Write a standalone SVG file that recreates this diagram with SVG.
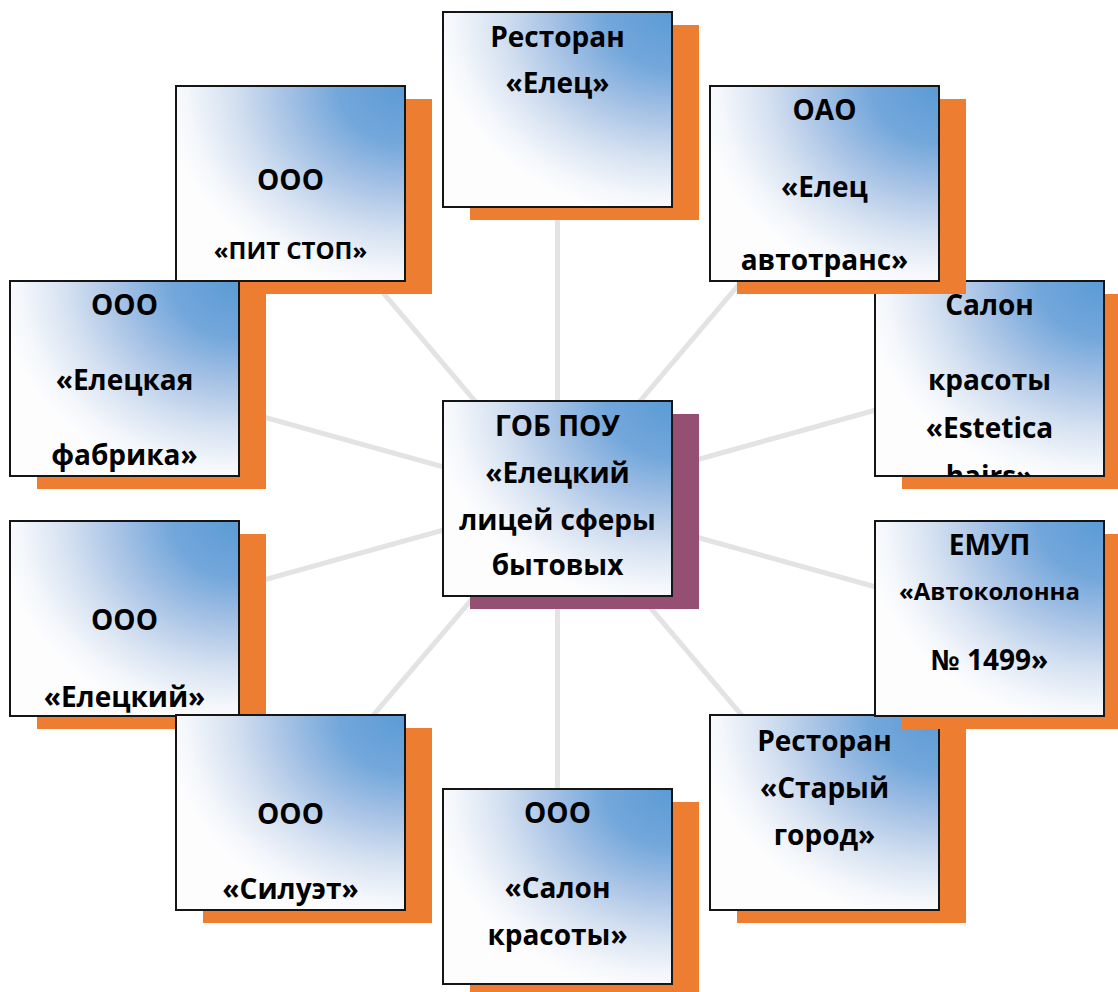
<svg xmlns="http://www.w3.org/2000/svg" width="1118" height="992" viewBox="0 0 1118 992">
<defs>
<radialGradient id="g" cx="1" cy="0" r="1.05" fx="1" fy="0">
<stop offset="0" stop-color="#5b9bd5"/>
<stop offset="0.28" stop-color="#73a7db"/>
<stop offset="0.5" stop-color="#a6c2e5"/>
<stop offset="0.72" stop-color="#d5e1f1"/>
<stop offset="0.9" stop-color="#f3f6fb"/>
<stop offset="1" stop-color="#fdfdfe"/>
</radialGradient>
<clipPath id="clipEst"><rect x="875" y="281" width="229" height="195"/></clipPath>
</defs>
<style>
.conn line{stroke:#e3e3e3;stroke-width:5;fill:none}
.sh{fill:#ed7d31}
.shc{fill:#954f72}
.box{fill:url(#g);stroke:#151515;stroke-width:2}
.t{font-family:"Open Sans","Noto Sans","DejaVu Sans",sans-serif;font-weight:700;font-size:28px;text-anchor:middle;fill:#000}
.s{font-size:24px}
</style>
<rect width="1118" height="992" fill="#fff"/>
<g id="connectors" class="conn">
<line x1="557.5" y1="498.5" x2="557.5" y2="109.5"/>
<line x1="557.5" y1="498.5" x2="824.5" y2="183.5"/>
<line x1="557.5" y1="498.5" x2="989.5" y2="378.5"/>
<line x1="557.5" y1="498.5" x2="989.5" y2="618.5"/>
<line x1="557.5" y1="498.5" x2="824.5" y2="812.5"/>
<line x1="557.5" y1="498.5" x2="557.5" y2="886.5"/>
<line x1="557.5" y1="498.5" x2="290.5" y2="812.5"/>
<line x1="557.5" y1="498.5" x2="124.5" y2="618.5"/>
<line x1="557.5" y1="498.5" x2="124.5" y2="378.5"/>
<line x1="557.5" y1="498.5" x2="290.5" y2="183.5"/>
</g>
<g id="center">
<rect class="shc" x="470" y="414" width="229" height="195"/>
<rect class="box" x="443" y="401" width="229" height="195"/>
<text class="t" x="557.5" y="436">ГОБ ПОУ</text>
<text class="t" x="557.5" y="483">«Елецкий</text>
<text class="t" x="557.5" y="530">лицей сферы</text>
<text class="t" x="557.5" y="575">бытовых</text>
</g>
<g id="n-elets">
<rect class="sh" x="470" y="25" width="229" height="195"/>
<rect class="box" x="443" y="12" width="229" height="195"/>
<text class="t" x="557.5" y="47">Ресторан</text>
<text class="t" x="557.5" y="93">«Елец»</text>
</g>
<g id="n-pitstop">
<rect class="sh" x="203" y="99" width="229" height="195"/>
<rect class="box" x="176" y="86" width="229" height="195"/>
<text class="t" x="290.5" y="190">ООО</text>
<text class="t s" x="290.5" y="259">«ПИТ СТОП»</text>
</g>
<g id="n-fabrika">
<rect class="sh" x="37" y="294" width="229" height="195"/>
<rect class="box" x="10" y="281" width="229" height="195"/>
<text class="t" x="124.5" y="315">ООО</text>
<text class="t" x="124.5" y="390">«Елецкая</text>
<text class="t" x="124.5" y="465">фабрика»</text>
</g>
<g id="n-eletskiy">
<rect class="sh" x="37" y="534" width="229" height="195"/>
<rect class="box" x="10" y="521" width="229" height="195"/>
<text class="t" x="124.5" y="630">ООО</text>
<text class="t" x="124.5" y="707">«Елецкий»</text>
</g>
<g id="n-siluet">
<rect class="sh" x="203" y="728" width="229" height="195"/>
<rect class="box" x="176" y="715" width="229" height="195"/>
<text class="t" x="290.5" y="824">ООО</text>
<text class="t" x="290.5" y="899">«Силуэт»</text>
</g>
<g id="n-salon">
<rect class="sh" x="470" y="802" width="229" height="195"/>
<rect class="box" x="443" y="789" width="229" height="195"/>
<text class="t" x="557.5" y="823">ООО</text>
<text class="t" x="557.5" y="898">«Салон</text>
<text class="t" x="557.5" y="945">красоты»</text>
</g>
<g id="n-stariy">
<rect class="sh" x="737" y="728" width="229" height="195"/>
<rect class="box" x="710" y="715" width="229" height="195"/>
<text class="t" x="824.5" y="751">Ресторан</text>
<text class="t" x="824.5" y="798">«Старый</text>
<text class="t" x="824.5" y="845">город»</text>
</g>
<g id="n-emup">
<rect class="sh" x="902" y="534" width="229" height="195"/>
<rect class="box" x="875" y="521" width="229" height="195"/>
<text class="t" x="989.5" y="555">ЕМУП</text>
<text class="t s" x="989.5" y="600">«Автоколонна</text>
<text class="t" x="989.5" y="670">№ 1499»</text>
</g>
<g id="n-estetica">
<rect class="sh" x="902" y="294" width="229" height="195"/>
<rect class="box" x="875" y="281" width="229" height="195"/>
<g clip-path="url(#clipEst)">
<text class="t" x="989.5" y="315">Салон</text>
<text class="t" x="989.5" y="390">красоты</text>
<text class="t" x="989.5" y="438">«Estetica</text>
<text class="t" x="989.5" y="486">hairs»</text>
</g>
</g>
<g id="n-oao">
<rect class="sh" x="737" y="99" width="229" height="195"/>
<rect class="box" x="710" y="86" width="229" height="195"/>
<text class="t" x="824.5" y="120">ОАО</text>
<text class="t" x="824.5" y="197">«Елец</text>
<text class="t" x="824.5" y="270">автотранс»</text>
</g>
</svg>
